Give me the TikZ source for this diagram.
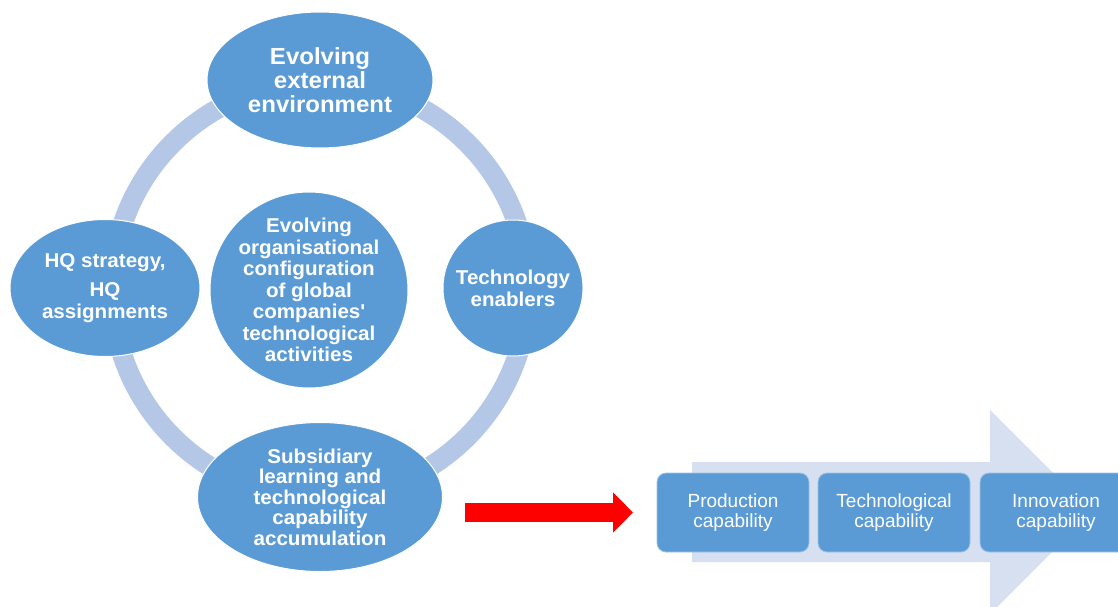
\documentclass[tikz,border=0pt]{standalone}
\usepackage{fontspec}
\setmainfont{Liberation Sans}[BoldFeatures={FakeStretch=1.03}]
\usetikzlibrary{shapes.geometric,arrows.meta}
\definecolor{nodeblue}{HTML}{5B9BD5}
\definecolor{ringblue}{HTML}{B4C7E7}
\definecolor{flowblue}{HTML}{D6E0F1}
\definecolor{edgeblue}{HTML}{9DC3E6}
\begin{document}
\begin{tikzpicture}[x=1pt,y=-1pt,
  bubble/.style={ellipse, fill=nodeblue, draw=white, line width=1pt, inner sep=0pt},
  bubbletext/.style={text=white, align=center, inner sep=0pt,
    font=\bfseries\fontsize{20}{21.5}\selectfont},
  stage/.style={rectangle, rounded corners=9pt, fill=nodeblue, draw=edgeblue,
    line width=0.8pt, text=white, align=center, inner sep=0pt,
    minimum width=152pt, minimum height=79pt,
    font=\fontsize{19}{20}\selectfont}]
\useasboundingbox (0,0) rectangle (1118,607);
\clip (0,0) rectangle (1118,607);

% cycle ring behind the bubbles
\coordinate (ringc) at (320,290);
\draw[ringblue, line width=20pt] (ringc) circle[radius=208];

% bubbles
\node[bubble, minimum width=226pt, minimum height=136pt] (top) at (320,80)
  [label={[bubbletext, font=\bfseries\fontsize{23.3}{24}\selectfont]center:{Evolving\\external\\environment}}] {};
\node[bubble, minimum width=190pt, minimum height=137pt] (left) at (105,288)
  [label={[bubbletext]center:{HQ strategy,\\[8pt]HQ\\assignments}}] {};
\node[bubble, minimum width=198pt, minimum height=196pt] (mid) at (309,290)
  [label={[bubbletext]center:{Evolving\\organisational\\configuration\\of global\\companies\textquotesingle\\technological\\activities}}] {};
\node[bubble, minimum width=140pt, minimum height=136pt] (right) at (513,288)
  [label={[bubbletext, font=\bfseries\fontsize{20}{22}\selectfont]center:{Technology\\enablers}}] {};
\node[bubble, minimum width=245pt, minimum height=149pt] (bottom) at (320,497)
  [label={[bubbletext, font=\bfseries\fontsize{20}{20.5}\selectfont]center:{Subsidiary\\learning and\\technological\\capability\\accumulation}}] {};

% progression arrow behind the capability stages
\fill[flowblue] (692,462) -- (990,462) -- (990,410) -- (1092,512) -- (990,614)
  -- (990,562) -- (692,562) -- cycle;

% capability stages
\node[stage] (prod) at (733,512.5) {Production\\capability};
\node[stage] (tech) at (894,512.5) {Technological\\capability};
\node[stage] (innov) at (1056,512.5) {Innovation\\capability};

% red transition arrow
\coordinate (redtail) at (465,512.5);
\coordinate (redtip) at (633,512.5);
\draw[red, line width=19pt, -{Triangle[length=20pt, width=39pt]}] (redtail) -- (redtip);
\end{tikzpicture}
\end{document}
